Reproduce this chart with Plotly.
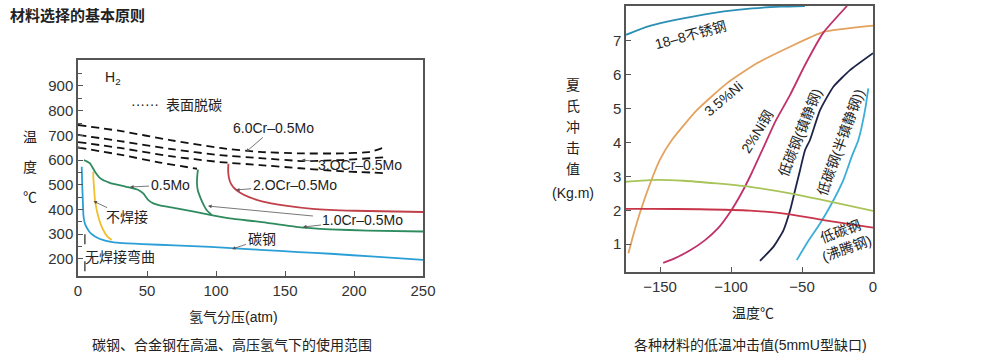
import plotly.graph_objects as go

FONT = "Liberation Sans, Arial, Noto Sans CJK SC, sans-serif"

# ---------------- Left chart data (hydrogen partial pressure atm vs temperature C) ----------------
carbon_p = [2.7, 3.0, 3.4, 3.9, 4.5, 5.2, 6.5, 8.5, 11, 14, 18, 23, 30, 47, 70, 96, 132, 160, 183, 215, 250]
carbon_t = [573, 510, 450, 380, 355, 340, 325, 308, 296, 286, 277, 270, 265, 260, 255, 249, 237, 228, 221, 209, 196]

noweld_p = [11.1, 11.1, 11.4, 12.3, 13.5, 14.7, 16.5, 18.3, 21, 24.4]
noweld_t = [553, 530, 507, 438, 400, 371, 340, 317, 292, 277]

mo05_p = [4.3, 6, 8.7, 12.3, 16, 23, 35, 43.7, 47.3, 51, 54.6, 60, 71.5, 85, 95.7, 110, 132, 158, 182.6, 210, 250]
mo05_t = [600, 596, 587, 553, 527, 508, 492, 479, 465, 438, 425, 416, 405, 390, 378, 364, 350, 330, 320, 315, 311]

cr10_p = [86.9, 86.4, 86.2, 86.8, 88.4, 90.5, 93.2, 96.9]
cr10_t = [562, 535, 506, 478, 452, 425, 398, 378]

cr20_p = [109, 108.8, 109.3, 110.8, 113.5, 117.5, 124, 134, 149, 170, 200, 250]
cr20_t = [585, 560, 530, 505, 485, 468, 450, 432, 417, 403, 395, 390]

dash1_p = [0, 30.4, 66.7, 102.9, 131.9, 160.9, 189.9, 211.6, 222.5]
dash1_t = [742, 718, 681, 649, 633, 627, 627, 633, 653]
dash2_p = [0, 30.4, 66.7, 102.9, 131.9, 163.0, 189.9, 223.9]
dash2_t = [702, 677, 645, 620, 608, 596, 600, 612]
dash3_p = [0, 30.4, 66.7, 102.9, 131.9, 160.9, 189.9, 223.9]
dash3_t = [673, 649, 616, 592, 580, 567, 555, 547]
dash4_p = [0, 30.4, 59.4, 86.2]
dash4_t = [651, 622, 590, 565]

nobend_p = [5, 5]
nobend_t = [300, 131]

left_xticks = [0, 50, 100, 150, 200, 250]
left_yticks = [200, 300, 400, 500, 600, 700, 800, 900]
left_yminor = [250, 350, 450, 550, 650, 750, 850, 950]

# ---------------- Right chart data (temperature C vs Charpy impact Kg.m) ----------------
ss_t = [-174, -160, -145, -125, -105, -85, -65, -48]
ss_v = [7.17, 7.40, 7.56, 7.72, 7.86, 7.95, 8.0, 8.02]

ni35_t = [-172.3, -169, -164, -157, -150, -141.7, -124.1, -103, -81.8, -58.4, -35.2, 0]
ni35_v = [0.73, 1.25, 1.95, 2.79, 3.50, 4.07, 4.95, 5.74, 6.33, 6.82, 7.25, 7.44]

ni2_t = [-147.8, -139.4, -128.8, -118.3, -109.1, -100.7, -92.3, -85.2, -77.4, -69.0, -58.4, -47.9, -35.2, -18.3]
ni2_v = [0.45, 0.59, 0.82, 1.12, 1.47, 1.94, 2.53, 3.12, 3.83, 4.60, 5.40, 6.28, 7.22, 8.02]

killed_t = [-79.6, -70.2, -63.1, -58.4, -54.9, -51.4, -47.9, -44.4, -37.3, -27.9, -16.2, 0]
killed_v = [0.51, 0.92, 1.41, 2.0, 2.59, 3.18, 3.77, 4.07, 4.95, 5.64, 6.13, 6.63]

semi_t = [-53.7, -46.7, -37.3, -29.1, -20.9, -15.0, -10.3, -5.6, -3.3]
semi_v = [0.53, 1.02, 1.61, 2.2, 2.89, 3.58, 4.07, 4.95, 5.59]

green_t = [-174, -157, -133.5, -110, -86.6, -58.4, -35.0, 0]
green_v = [2.84, 2.89, 2.87, 2.79, 2.69, 2.50, 2.30, 1.98]

red_t = [-174, -157, -122, -86.6, -58.4, -35.0, 0]
red_v = [2.04, 2.04, 2.03, 1.99, 1.88, 1.71, 1.49]

right_xticks = [-150, -100, -50, 0]
right_yticks = [1, 2, 3, 4, 5, 6, 7, 8]

fig = go.Figure()

def add(x, y, color, xa="x", ya="y", dash="solid", width=1.8):
    fig.add_trace(go.Scatter(x=x, y=y, mode="lines", xaxis=xa, yaxis=ya,
                             line=dict(color=color, width=width, dash=dash, shape="spline", smoothing=0.5),
                             hoverinfo="skip", showlegend=False))

# left
for px_, ty_ in [(dash1_p, dash1_t), (dash2_p, dash2_t), (dash3_p, dash3_t), (dash4_p, dash4_t)]:
    add(px_, ty_, "#111111", dash="8px,5px", width=1.8)
add(carbon_p, carbon_t, "#2a9fd6")
add(noweld_p, noweld_t, "#f0c030")
add(mo05_p, mo05_t, "#2e8b5e")
add(cr10_p, cr10_t, "#2e8b5e")
add(cr20_p, cr20_t, "#c0404a")
fig.add_trace(go.Scatter(x=nobend_p, y=nobend_t, mode="lines", line=dict(color="#333", width=1.3, dash="10px,17px"),
                         hoverinfo="skip", showlegend=False))

# right
add(ss_t, ss_v, "#2b8fb5", "x2", "y2")
add(ni35_t, ni35_v, "#e3a25e", "x2", "y2")
add(ni2_t, ni2_v, "#c0306a", "x2", "y2")
add(killed_t, killed_v, "#1e2448", "x2", "y2")
add(semi_t, semi_v, "#3aaed8", "x2", "y2")
add(green_t, green_v, "#a8c458", "x2", "y2")
add(red_t, red_v, "#c8344a", "x2", "y2")

axis_common = dict(showline=True, linecolor="#555", linewidth=1.5, mirror=True, showgrid=False,
                   zeroline=False, ticks="inside", ticklen=5, tickcolor="#555", automargin=False,
                   tickfont=dict(family=FONT, size=15, color="#333"))

fig.update_layout(
    width=1005, height=359, margin=dict(l=0, r=0, t=0, b=0, autoexpand=False),
    paper_bgcolor="white", plot_bgcolor="white",
    font=dict(family=FONT, size=14, color="#222"),
    xaxis=dict(domain=[78/1005, 423/1005], range=[0, 250], tickvals=left_xticks, anchor="y", **axis_common),
    yaxis=dict(domain=[1-276/359, 1-60/359], range=[131, 1005], tickvals=left_yticks, anchor="x",
               minor=dict(ticks="inside", ticklen=4, tickcolor="#555", tickvals=left_yminor),
               **axis_common),
    xaxis2=dict(domain=[626/1005, 873/1005], range=[-174, 0], tickvals=right_xticks, anchor="y2", **axis_common),
    yaxis2=dict(domain=[1-272/359, 1-6/359], range=[0.18, 8.02], tickvals=right_yticks, anchor="x2", **axis_common),
)

ann = []
def txt(x, y, s, size=14, xref="paper", yref="paper", angle=0, bold=False, color="#222", xanchor="center", height=None):
    d = dict(x=x, y=y, xref=xref, yref=yref, text=("<b>%s</b>" % s if bold else s), showarrow=False,
             textangle=angle, xanchor=xanchor, yanchor="middle", font=dict(family=FONT, size=size, color=color))
    if height:
        d["height"] = height
        d["borderpad"] = 0
    ann.append(d)

def arrow(x, y, ax, ay, s, size=14):
    ann.append(dict(x=x, y=y, xref="x", yref="y", axref="x", ayref="y", ax=ax, ay=ay, text=s,
                    showarrow=True, arrowhead=2, arrowsize=0.9, arrowwidth=0.8, arrowcolor="#555", standoff=0,
                    font=dict(family=FONT, size=size, color="#222")))

# titles / captions
txt(8/1005, 1-15/359, "材料选择的基本原则", size=15, bold=True, xanchor="left")
txt(30/1005, 1-137/359, "温", size=14)
txt(30/1005, 1-167/359, "度", size=14)
txt(30/1005, 1-197/359, "℃", size=14)
txt(233/1005, 1-317/359, "氢气分压(atm)", size=14)
txt(232/1005, 1-345/359, "碳钢、合金钢在高温、高压氢气下的使用范围", size=14)
for i, ch in enumerate(["夏", "氏", "冲", "击", "值"]):
    txt(573/1005, 1-(84 + 21*i)/359, ch, size=14, height=17)
txt(573/1005, 1-192/359, "(Kg.m)", size=14, height=17)
txt(753/1005, 1-313/359, "温度℃", size=14)
txt(750/1005, 1-345/359, "各种材料的低温冲击值(5mmU型缺口)", size=14)

# left chart labels
txt(25.4, 932, "H<sub>2</sub>", xref="x", yref="y")
txt(48.9, 829, "······", xref="x", yref="y")
txt(83.7, 823, "表面脱碳", xref="x", yref="y")
txt(30.4, 207, "无焊接弯曲", xref="x", yref="y")
arrow(121.7, 633, 142, 730, "6.0Cr–0.5Mo")
arrow(162, 600, 204, 580, "3.OCr–0.5Mo")
arrow(114.5, 479, 157, 499, "2.OCr–0.5Mo")
arrow(37.7, 491, 66.7, 499, "0.5Mo")
arrow(163, 329, 206.5, 357, "1.0Cr–0.5Mo")
arrow(94.2, 414, 171.7, 373, " ", size=2)
arrow(11.2, 434, 35.5, 369, "不焊接")
arrow(111.6, 240, 133, 280, "碳钢")

# right chart labels
txt(-128.8, 7.17, "18–8不锈钢", xref="x2", yref="y2", angle=-15)
txt(-105.6, 5.28, "3.5%Ni", xref="x2", yref="y2", angle=-40)
txt(-81.7, 4.30, "2%Ni钢", xref="x2", yref="y2", angle=-58)
txt(-51.4, 4.27, "低碳钢(镇静钢)", xref="x2", yref="y2", angle=-68)
txt(-22.5, 4.0, "低碳钢(半镇静钢))", xref="x2", yref="y2", angle=-70)
txt(-21.1, 1.12, "低碳钢<br>(沸腾钢)", xref="x2", yref="y2", angle=-20)

fig.update_layout(annotations=ann)
fig.write_html("out.html", config={"displayModeBar": False},
               post_script="document.body.style.margin='0';document.body.style.padding='0';")
